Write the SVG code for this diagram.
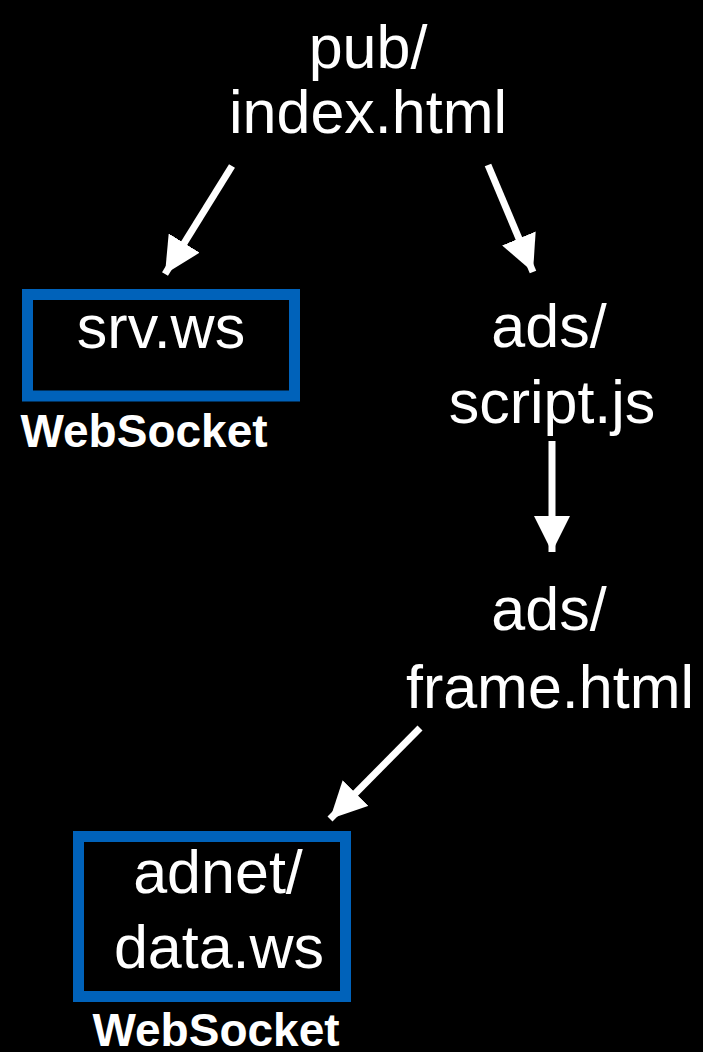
<svg xmlns="http://www.w3.org/2000/svg" width="703" height="1052" viewBox="0 0 703 1052">
<style>
.lbl{font-family:"Liberation Sans",Arial,sans-serif;font-size:61px;fill:#fff;text-anchor:middle}
.sub{font-family:"Liberation Sans",Arial,sans-serif;font-size:46px;font-weight:bold;fill:#fff;text-anchor:middle}
.box{fill:none;stroke:#0062BA;stroke-width:11}
.edge{stroke:#fff;stroke-width:7;fill:none}
</style>
<defs>
<marker id="ah" viewBox="0 0 10 10" refX="10" refY="5" markerWidth="5.2" markerHeight="5.2" markerUnits="strokeWidth" orient="auto">
<path d="M0,0 L10,5 L0,10 z" fill="#fff"/>
</marker>
</defs>
<rect width="703" height="1052" fill="#000"/>
<g id="connectors">
<line class="edge" x1="232" y1="166" x2="165" y2="274" marker-end="url(#ah)"/>
<line class="edge" x1="488" y1="165" x2="533" y2="272" marker-end="url(#ah)"/>
<line class="edge" x1="552" y1="441" x2="552" y2="552" marker-end="url(#ah)"/>
<line class="edge" x1="420" y1="728" x2="330" y2="819" marker-end="url(#ah)"/>
</g>
<g id="pub-index">
<text class="lbl" x="368" y="68">pub/</text>
<text class="lbl" x="368" y="133">index.html</text>
</g>
<g id="srv-ws">
<rect class="box" x="27.5" y="294.5" width="267" height="101.5"/>
<text class="lbl" x="161" y="348">srv.ws</text>
<text class="sub" x="144" y="447">WebSocket</text>
</g>
<g id="ads-script">
<text class="lbl" x="549" y="347">ads/</text>
<text class="lbl" x="552" y="423">script.js</text>
</g>
<g id="ads-frame">
<text class="lbl" x="549" y="630">ads/</text>
<text class="lbl" x="550" y="708">frame.html</text>
</g>
<g id="adnet-data">
<rect class="box" x="78.5" y="836.5" width="267" height="160"/>
<text class="lbl" x="218" y="893">adnet/</text>
<text class="lbl" x="219" y="968">data.ws</text>
<text class="sub" x="216" y="1046">WebSocket</text>
</g>
</svg>
